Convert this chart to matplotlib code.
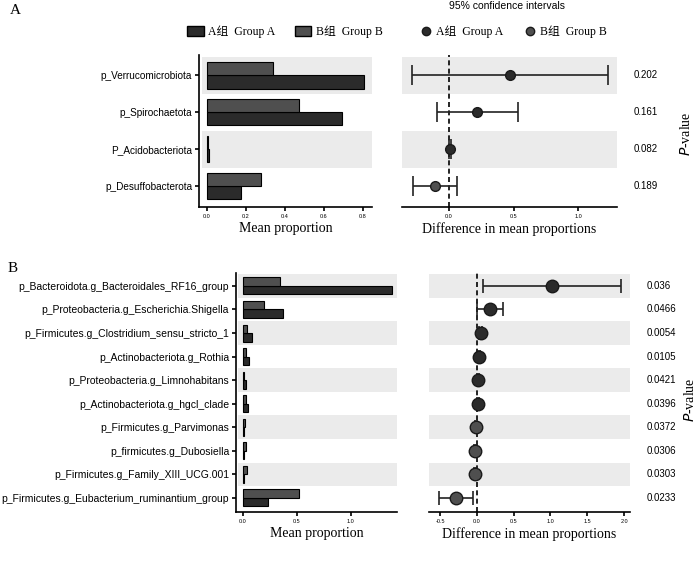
import matplotlib.pyplot as plt
from matplotlib.patches import Patch
from matplotlib.lines import Line2D
import numpy as np

# ---- data: panel A ----
taxa_a = ['p_Verrucomicrobiota', 'p_Spirochaetota', 'P_Acidobacteriota', 'p_Desuffobacterota']
mean_a_grpA = [0.805, 0.69, 0.01, 0.175]
mean_a_grpB = [0.34, 0.47, 0.005, 0.28]
diff_a = [0.47, 0.22, 0.008, -0.105]
ci_low_a = [-0.29, -0.095, 0.0, -0.28]
ci_high_a = [1.23, 0.535, 0.016, 0.065]
pval_a = ['0.202', '0.161', '0.082', '0.189']

# ---- data: panel B ----
taxa_b = ['p_Bacteroidota.g_Bacteroidales_RF16_group',
          'p_Proteobacteria.g_Escherichia.Shigella',
          'p_Firmicutes.g_Clostridium_sensu_stricto_1',
          'p_Actinobacteriota.g_Rothia',
          'p_Proteobacteria.g_Limnohabitans',
          'p_Actinobacteriota.g_hgcl_clade',
          'p_Firmicutes.g_Parvimonas',
          'p_firmicutes.g_Dubosiella',
          'p_Firmicutes.g_Family_XIII_UCG.001',
          'p_Firmicutes.g_Eubacterium_ruminantium_group']
mean_b_grpA = [1.38, 0.37, 0.085, 0.055, 0.03, 0.045, 0.005, 0.005, 0.01, 0.23]
mean_b_grpB = [0.34, 0.19, 0.035, 0.03, 0.01, 0.03, 0.015, 0.03, 0.035, 0.52]
diff_b = [1.02, 0.18, 0.05, 0.025, 0.02, 0.017, -0.01, -0.025, -0.025, -0.28]
ci_low_b = [0.085, 0.0, 0.03, 0.01, 0.005, 0.005, -0.02, -0.04, -0.04, -0.52]
ci_high_b = [1.96, 0.36, 0.075, 0.04, 0.035, 0.03, 0.0, -0.01, -0.01, -0.05]
pval_b = ['0.036', '0.0466', '0.0054', '0.0105', '0.0421', '0.0396', '0.0372', '0.0306', '0.0303', '0.0233']

col_a = '#2b2b2b'
col_b = '#4f4f4f'
band = '#ebebeb'
serif = ['Liberation Serif', 'Noto Sans CJK SC']
sans = 'Liberation Sans'

fig = plt.figure(figsize=(7, 5.66), dpi=100)


def px(x0, y0, x1, y1):
    # pixel box -> figure fraction
    return [x0 / 700, 1 - y1 / 566, (x1 - x0) / 700, (y1 - y0) / 566]


def bar_panel(ax, taxa, ma, mb, xlim, ylim, ticks, fs):
    n = len(taxa)
    y = np.arange(n)
    for i in range(0, n, 2):
        ax.axhspan(i - 0.5, i + 0.5, xmin=0.015, color=band, lw=0, zorder=0)
    h = 0.36
    ax.barh(y + h / 2, ma, height=h, color=col_a, edgecolor='black', lw=0.8, zorder=2)
    ax.barh(y - h / 2, mb, height=h, color=col_b, edgecolor='black', lw=0.8, zorder=2)
    ax.set_xlim(*xlim)
    ax.set_ylim(*ylim)
    ax.set_yticks(y)
    ax.set_yticklabels(taxa, fontsize=fs, family=sans)
    ax.set_xticks(ticks)
    ax.set_xticklabels([f'{t:.1f}' for t in ticks], fontsize=4, family=sans)
    for s in ['top', 'right']:
        ax.spines[s].set_visible(False)
    ax.spines['left'].set_linewidth(1.2)
    ax.spines['bottom'].set_linewidth(1.2)
    ax.tick_params(axis='both', length=3, width=1.2, pad=2)
    ax.set_xlabel('Mean proportion', fontsize=10, family=serif, labelpad=2)


def diff_panel(ax, diff, lo, hi, pv, xlim, ylim, ticks, npos, ms, cap):
    n = len(diff)
    y = np.arange(n)
    for i in range(0, n, 2):
        ax.axhspan(i - 0.5, i + 0.5, color=band, lw=0, zorder=0)
    ax.axvline(0, color='black', ls=(0, (3, 2)), lw=1.2, zorder=1)
    for i in range(n):
        c = col_a if i < npos else col_b
        ax.errorbar(diff[i], y[i], xerr=[[diff[i] - lo[i]], [hi[i] - diff[i]]],
                    fmt='o', color='#222222', mfc=c, mec='#1a1a1a', ms=ms,
                    capsize=cap, elinewidth=1.2, capthick=1.2, zorder=3)
    ax.set_xlim(*xlim)
    ax.set_ylim(*ylim)
    ax.set_yticks([])
    ax.set_xticks(ticks)
    ax.set_xticklabels([f'{t:.1f}' for t in ticks], fontsize=4, family=sans)
    for s in ['top', 'right', 'left']:
        ax.spines[s].set_visible(False)
    ax.spines['bottom'].set_linewidth(1.2)
    ax.tick_params(axis='x', length=3, width=1.2, pad=2)
    ax.set_xlabel('Difference in mean proportions', fontsize=10, family=serif, labelpad=2)
    for i in range(n):
        ax.annotate(pv[i], (1, y[i]), xycoords=('axes fraction', 'data'),
                    xytext=(12, 0), textcoords='offset points', va='center',
                    fontsize=7, family=sans)


# panel A
ax1 = fig.add_axes(px(199, 55, 372, 207))
bar_panel(ax1, taxa_a, mean_a_grpA, mean_a_grpB, (-0.04, 0.846), (3.57, -0.55),
          [0.0, 0.2, 0.4, 0.6, 0.8], 7.2)
ax2 = fig.add_axes(px(402, 55, 617, 207))
diff_panel(ax2, diff_a, ci_low_a, ci_high_a, pval_a, (-0.364, 1.30), (3.57, -0.55),
           [0.0, 0.5, 1.0], 3, 7, 7)
ax2.text(1.32, 0.48, r'$P$-value', transform=ax2.transAxes, rotation=90,
         va='center', ha='center', fontsize=10, family='Liberation Serif')

# panel B
ax3 = fig.add_axes(px(236, 273, 397, 512))
bar_panel(ax3, taxa_b, mean_b_grpA, mean_b_grpB, (-0.066, 1.43), (9.6, -0.55),
          [0.0, 0.5, 1.0], 7.5)
ax4 = fig.add_axes(px(429, 273, 630, 512))
diff_panel(ax4, diff_b, ci_low_b, ci_high_b, pval_b, (-0.65, 2.08), (9.6, -0.55),
           [-0.5, 0.0, 0.5, 1.0, 1.5, 2.0], 6, 9, 5)
ax4.text(1.3, 0.47, r'$P$-value', transform=ax4.transAxes, rotation=90,
         va='center', ha='center', fontsize=10, family='Liberation Serif')

# legends
bar_handles = [Patch(facecolor=col_a, edgecolor='black', label='A组  Group A'),
               Patch(facecolor=col_b, edgecolor='black', label='B组  Group B')]
fig.legend(handles=bar_handles, loc='center', bbox_to_anchor=(285 / 700, 1 - 32 / 566),
           ncol=2, frameon=False, prop={'family': serif, 'size': 8.5},
           handlelength=1.4, handleheight=0.9, columnspacing=1.6, handletextpad=0.4)
pt_handles = [Line2D([], [], ls='', marker='o', ms=6, mfc=col_a, mec='#1a1a1a', label='A组  Group A'),
              Line2D([], [], ls='', marker='o', ms=6, mfc=col_b, mec='#1a1a1a', label='B组  Group B')]
fig.legend(handles=pt_handles, loc='center', bbox_to_anchor=(513 / 700, 1 - 32 / 566),
           ncol=2, frameon=False, prop={'family': serif, 'size': 8.5},
           handlelength=1.2, columnspacing=1.6, handletextpad=0.3)

fig.text(507 / 700, 1 - 6 / 566, '95% confidence intervals', ha='center', va='center',
         fontsize=7.5, family=sans)
fig.text(10 / 700, 1 - 11 / 566, 'A', fontsize=11, family='Liberation Serif', va='center')
fig.text(8 / 700, 1 - 268 / 566, 'B', fontsize=11, family='Liberation Serif', va='center')

fig.savefig('out.png', dpi=100)
